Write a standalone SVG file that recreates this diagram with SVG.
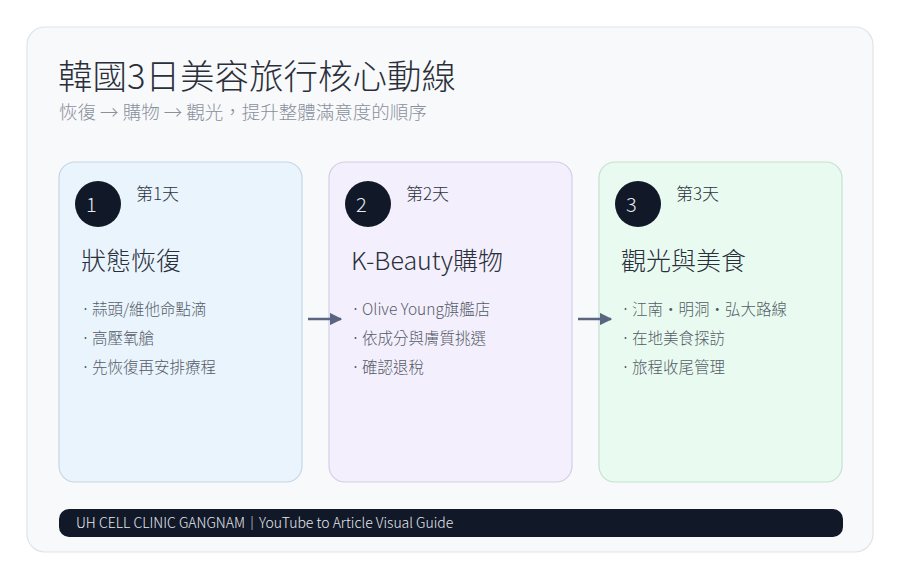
<svg xmlns="http://www.w3.org/2000/svg" width="900" height="579" viewBox="0 0 900 579">
<defs>
<marker id="ah" viewBox="0 0 10 10" refX="9" refY="5" markerWidth="5" markerHeight="5" orient="auto"><path d="M0,0 L10,5 L0,10 z" fill="#5a6580"/></marker>
</defs>
<style>
text{font-family:"Noto Sans CJK TC","Noto Sans",sans-serif;font-weight:200}
.title{font-size:34.5px;fill:#2a2f3a}
.sub{font-size:18.5px;fill:#8a909c}
.day{font-size:17px;fill:#2d323c}
.num{font-size:20px;fill:#e8ebf0}
.head{font-size:25px;fill:#2a2f3a}
.item{font-size:15.5px;fill:#555b66}
.b{font-family:"Noto Sans",sans-serif;font-size:13px;fill:#555b66}
.card{stroke-width:1.2}
</style>
<rect x="0" y="0" width="900" height="579" fill="#ffffff"/>
<rect x="27" y="27" width="846" height="525" rx="18" fill="#f8f9fb" stroke="#dfe3ea" stroke-width="1.2"/>
<text class="title" x="58" y="89">韓國3日美容旅行核心動線</text>
<text class="sub" x="59" y="119">恢復 → 購物 → 觀光，提升整體滿意度的順序</text>
<g id="node1">
<rect class="card" x="59" y="162" width="243" height="320" rx="16" fill="#e9f4fd" stroke="#c6d6e6"/>
<circle cx="98" cy="204" r="23" fill="#111827"/>
<text class="num" x="86" y="212">1</text>
<text class="day" x="136" y="200">第1天</text>
<text class="head" x="81" y="270">狀態恢復</text>
<text class="b" x="83" y="314">•</text><text class="item" x="92" y="315">蒜頭/維他命點滴</text>
<text class="b" x="83" y="343">•</text><text class="item" x="92" y="344">高壓氧艙</text>
<text class="b" x="83" y="372">•</text><text class="item" x="92" y="373">先恢復再安排療程</text>
</g>
<g id="node2">
<rect class="card" x="329" y="162" width="243" height="320" rx="16" fill="#f3effd" stroke="#d4cde6"/>
<circle cx="368" cy="204" r="23" fill="#111827"/>
<text class="num" x="356" y="212">2</text>
<text class="day" x="406" y="200">第2天</text>
<text class="head" x="351" y="270">K-Beauty購物</text>
<text class="b" x="353" y="314">•</text><text class="item" x="362" y="315">Olive Young旗艦店</text>
<text class="b" x="353" y="343">•</text><text class="item" x="362" y="344">依成分與膚質挑選</text>
<text class="b" x="353" y="372">•</text><text class="item" x="362" y="373">確認退稅</text>
</g>
<g id="node3">
<rect class="card" x="599" y="162" width="243" height="320" rx="16" fill="#e9fbf1" stroke="#c4e2d0"/>
<circle cx="638" cy="204" r="23" fill="#111827"/>
<text class="num" x="626" y="212">3</text>
<text class="day" x="676" y="200">第3天</text>
<text class="head" x="621" y="270">觀光與美食</text>
<text class="b" x="623" y="314">•</text><text class="item" x="632" y="315">江南・明洞・弘大路線</text>
<text class="b" x="623" y="343">•</text><text class="item" x="632" y="344">在地美食探訪</text>
<text class="b" x="623" y="372">•</text><text class="item" x="632" y="373">旅程收尾管理</text>
</g>
<g id="connectors" stroke="#5a6580" stroke-width="2.5" fill="none">
<line x1="308" y1="319" x2="341" y2="319" marker-end="url(#ah)"/>
<line x1="578" y1="319" x2="611" y2="319" marker-end="url(#ah)"/>
</g>
<g id="footer">
<rect x="59" y="509" width="784" height="28" rx="10" fill="#111827"/>
<text x="76" y="528" style="font-size:14px;fill:#e5e8ee;font-weight:300">UH CELL CLINIC GANGNAM｜YouTube to Article Visual Guide</text>
</g>
</svg>
